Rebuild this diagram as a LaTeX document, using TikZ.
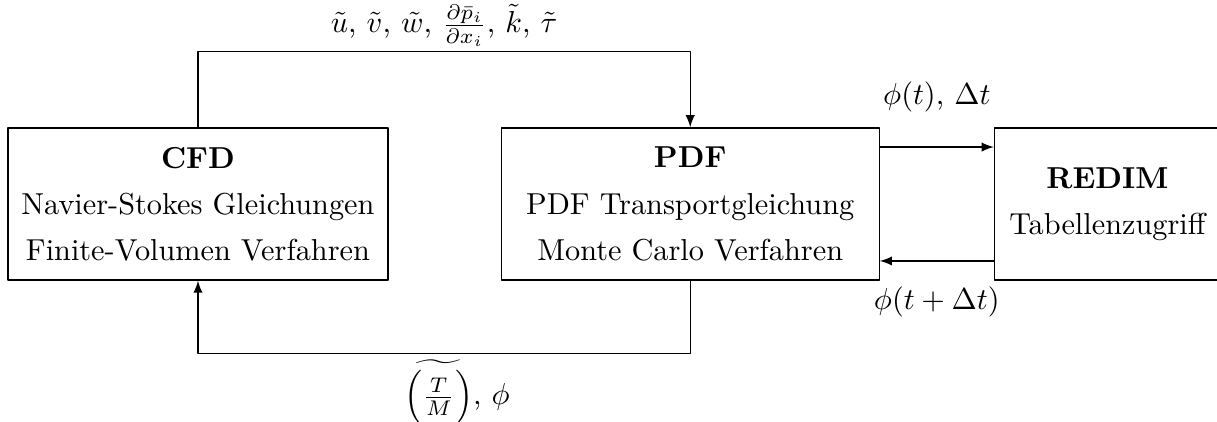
\documentclass[tikz,border=0pt]{standalone}
\usetikzlibrary{positioning}
\tikzset{block/.style={draw,align=center,minimum height=1.764cm,font=\linespread{1.27}\selectfont}}
\begin{document}
\begin{tikzpicture}[line cap=round,line join=round,>=latex]
  \useasboundingbox (0,0) rectangle (14.121,4.885);
  \node[block,minimum width=4.409cm] (cfd) at (2.297,2.518)
    {\textbf{CFD}\\Navier-Stokes Gleichungen\\Finite-Volumen Verfahren};
  \node[block,minimum width=4.386cm,right=1.3cm of cfd] (pdf)
    {\textbf{PDF}\\PDF Transportgleichung\\Monte Carlo Verfahren};
  \node[block,minimum width=2.622cm,right=1.323cm of pdf] (redim)
    {\textbf{REDIM}\\Tabellenzugriff};
  \draw[->] (cfd.north) -- ++(0,0.882) -| node[pos=0.25,above,inner sep=1.5pt]
    {$\tilde u$, $\tilde v$, $\tilde w$, $\frac{\partial\bar p_i}{\partial x_i}$, $\tilde k$, $\tilde\tau$} (pdf.north);
  \draw[->] (pdf.south) -- ++(0,-0.847) -| node[pos=0.25,below,inner sep=2pt,xshift=0.15cm]
    {$\widetilde{\Big(\frac{T}{M}\Big)}$, $\phi$} (cfd.south);
  \draw[->] ([yshift=0.661cm]pdf.east) -- ([yshift=0.661cm]redim.west)
    node[midway,above=8pt] {$\phi(t)$, $\Delta t$};
  \draw[->] ([yshift=-0.661cm]redim.west) -- ([yshift=-0.661cm]pdf.east)
    node[midway,below=5pt] {$\phi(t+\Delta t)$};
\end{tikzpicture}
\end{document}
